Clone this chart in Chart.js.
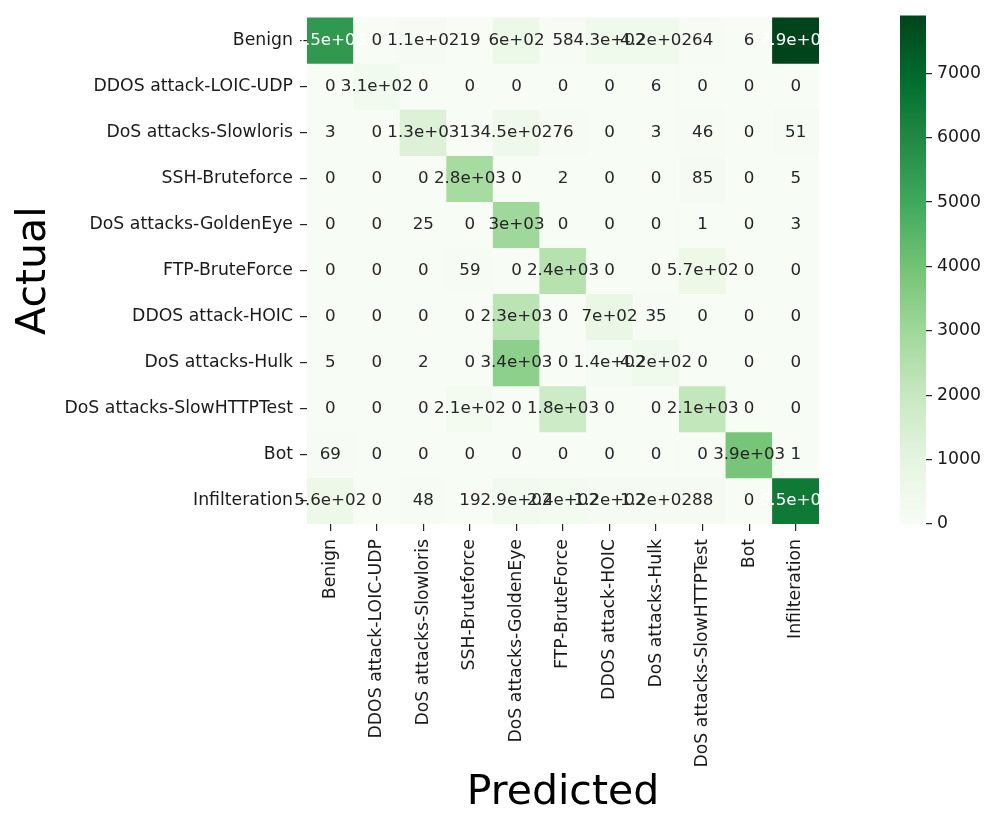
<!DOCTYPE html>
<html>
<head>
<meta charset="utf-8">
<script src="https://cdn.jsdelivr.net/npm/chart.js@4.4.1/dist/chart.umd.min.js"></script>
<style>
  html, body { margin: 0; padding: 0; background: #ffffff; }
  #wrap { position: relative; width: 984px; height: 814px; overflow: hidden; }
  #heatCanvas { position: absolute; left: 0; top: 0; }
  #cbarCanvas { position: absolute; left: 860px; top: 0; }
</style>
</head>
<body>
<div id="wrap">
  <canvas id="heatCanvas" width="860" height="814"></canvas>
  <canvas id="cbarCanvas" width="124" height="814"></canvas>
</div>
<script>
// Class names (same order for actual rows and predicted columns)
const classNames = [
  'Benign', 'DDOS attack-LOIC-UDP', 'DoS attacks-Slowloris', 'SSH-Bruteforce',
  'DoS attacks-GoldenEye', 'FTP-BruteForce', 'DDOS attack-HOIC', 'DoS attacks-Hulk',
  'DoS attacks-SlowHTTPTest', 'Bot', 'Infilteration'
];

// Confusion matrix rows: counts per predicted class
const rowBenign        = [5500, 0, 110, 19, 600, 58, 430, 420, 64, 6, 7900];
const rowLoicUdp       = [0, 310, 0, 0, 0, 0, 0, 6, 0, 0, 0];
const rowSlowloris     = [3, 0, 1300, 13, 450, 76, 0, 3, 46, 0, 51];
const rowSshBrute      = [0, 0, 0, 2800, 0, 2, 0, 0, 85, 0, 5];
const rowGoldenEye     = [0, 0, 25, 0, 3000, 0, 0, 0, 1, 0, 3];
const rowFtpBrute      = [0, 0, 0, 59, 0, 2400, 0, 0, 570, 0, 0];
const rowHoic          = [0, 0, 0, 0, 2300, 0, 700, 35, 0, 0, 0];
const rowHulk          = [5, 0, 2, 0, 3400, 0, 140, 420, 0, 0, 0];
const rowSlowHttpTest  = [0, 0, 0, 210, 0, 1800, 0, 0, 2100, 0, 0];
const rowBot           = [69, 0, 0, 0, 0, 0, 0, 0, 0, 3900, 1];
const rowInfilteration = [560, 0, 48, 19, 290, 240, 120, 120, 88, 0, 6500];

const confusion = [
  rowBenign, rowLoicUdp, rowSlowloris, rowSshBrute, rowGoldenEye, rowFtpBrute,
  rowHoic, rowHulk, rowSlowHttpTest, rowBot, rowInfilteration
];

const colorbarTicks = [0, 1000, 2000, 3000, 4000, 5000, 6000, 7000];

const FONT = 'DejaVu Sans';
const TICK_SIZE = 17.3;
const ANNOT_SIZE = 16.7;
const vmax = Math.max(...confusion.flat());

// Sequential "Greens" palette (ColorBrewer 9 steps)
const greensStops = ['#f7fcf5', '#e5f5e0', '#c7e9c0', '#a1d99b', '#74c476',
                     '#41ab5d', '#238b45', '#006d2c', '#00441b'];
function hexToRgb(h) {
  return [parseInt(h.slice(1, 3), 16), parseInt(h.slice(3, 5), 16), parseInt(h.slice(5, 7), 16)];
}
function greensRgb(t) {
  t = Math.min(1, Math.max(0, t));
  const pos = t * (greensStops.length - 1);
  const i = Math.min(Math.floor(pos), greensStops.length - 2);
  const f = pos - i;
  const a = hexToRgb(greensStops[i]), b = hexToRgb(greensStops[i + 1]);
  return a.map((c, k) => Math.round(c + (b[k] - c) * f));
}
function greens(t) {
  const c = greensRgb(t);
  return `rgb(${c[0]},${c[1]},${c[2]})`;
}
function luminance(rgb) {
  const lin = rgb.map(c => {
    c /= 255;
    return c <= 0.03928 ? c / 12.92 : Math.pow((c + 0.055) / 1.055, 2.4);
  });
  return 0.2126 * lin[0] + 0.7152 * lin[1] + 0.0722 * lin[2];
}

// Two significant digits, printf "%.2g" style
function fmt2g(v) {
  if (v === 0) return '0';
  let e = Math.floor(Math.log10(Math.abs(v)));
  let m = Math.round(v / Math.pow(10, e - 1)) / 10;
  if (Math.abs(m) >= 10) { m /= 10; e += 1; }
  if (e < -4 || e >= 2) {
    const ms = m.toFixed(1).replace(/\.0$/, '');
    const es = (e < 0 ? '-' : '+') + String(Math.abs(e)).padStart(2, '0');
    return ms + 'e' + es;
  }
  const digits = Math.max(0, 1 - e);
  return String(parseFloat(v.toFixed(digits)));
}

// Cell annotations, drawn row by row on top of the cells
const annotatePlugin = {
  id: 'cellAnnotations',
  afterDatasetsDraw(chart) {
    const ctx = chart.ctx;
    ctx.save();
    ctx.font = `${ANNOT_SIZE}px "${FONT}"`;
    ctx.textAlign = 'center';
    ctx.textBaseline = 'middle';
    confusion.forEach((row, i) => {
      const meta = chart.getDatasetMeta(i);
      row.forEach((v, j) => {
        const el = meta.data[j];
        const cx = el.x;
        const cy = (el.y + el.base) / 2;
        const lum = luminance(greensRgb(v / vmax));
        ctx.fillStyle = lum > 0.408 ? '#262626' : '#ffffff';
        ctx.fillText(fmt2g(v), cx, cy);
      });
    });
    ctx.restore();
  }
};

const tickGrid = {
  display: true,
  drawOnChartArea: false,
  drawTicks: true,
  tickLength: 7,
  offset: false,
  color: '#222222',
  lineWidth: 1.2
};

new Chart(document.getElementById('heatCanvas'), {
  type: 'bar',
  data: {
    labels: classNames,
    datasets: confusion.map((row, i) => ({
      label: classNames[i],
      data: row.map((v, j) => ({ x: classNames[j], y: [i - 0.5, i + 0.5], v })),
      backgroundColor: ctx => greens((ctx.raw ? ctx.raw.v : 0) / vmax),
      borderWidth: 0,
      barPercentage: 1,
      categoryPercentage: 1,
      grouped: false
    }))
  },
  options: {
    responsive: false,
    animation: false,
    devicePixelRatio: 1,
    layout: { padding: { top: 10, right: 41, left: 0, bottom: 0 } },
    plugins: { legend: { display: false }, tooltip: { enabled: false } },
    scales: {
      x: {
        type: 'category',
        position: 'bottom',
        offset: true,
        grid: tickGrid,
        border: { display: false },
        ticks: {
          autoSkip: false, maxRotation: 90, minRotation: 90, padding: 8,
          color: '#1a1a1a', font: { family: FONT, size: TICK_SIZE }
        },
        title: {
          display: true, text: 'Predicted', color: '#000000', padding: 0,
          font: { family: FONT, size: 41, lineHeight: 1 }
        },
        afterFit(scale) { scale.height = 290; }
      },
      y: {
        type: 'linear',
        reverse: true,
        min: -0.5,
        max: classNames.length - 0.5,
        stacked: false,
        afterBuildTicks(scale) { scale.ticks = classNames.map((_, i) => ({ value: i })); },
        grid: tickGrid,
        border: { display: false },
        ticks: {
          autoSkip: false, padding: 7, color: '#1a1a1a',
          font: { family: FONT, size: TICK_SIZE },
          callback: v => classNames[v]
        },
        title: {
          display: true, text: 'Actual', color: '#000000', padding: { top: 14 },
          font: { family: FONT, size: 41, lineHeight: 1 }
        },
        afterFit(scale) { scale.width = 307; }
      }
    }
  },
  plugins: [annotatePlugin]
});

// Colour bar: one bar spanning 0..vmax filled with the palette gradient
new Chart(document.getElementById('cbarCanvas'), {
  type: 'bar',
  data: {
    labels: [''],
    datasets: [{
      data: [[0, vmax]],
      backgroundColor(ctx) {
        const chart = ctx.chart;
        const ys = chart.scales.y;
        if (!chart.chartArea || !ys) return greens(0.5);
        const g = chart.ctx.createLinearGradient(0, ys.getPixelForValue(0), 0, ys.getPixelForValue(vmax));
        greensStops.forEach((c, k) => g.addColorStop(k / (greensStops.length - 1), c));
        return g;
      },
      borderWidth: 0,
      barPercentage: 1,
      categoryPercentage: 1
    }]
  },
  options: {
    responsive: false,
    animation: false,
    devicePixelRatio: 1,
    layout: { padding: { top: 10, left: 40, right: 0, bottom: 290 } },
    plugins: { legend: { display: false }, tooltip: { enabled: false } },
    scales: {
      x: { display: false },
      y: {
        position: 'right',
        min: 0,
        max: vmax,
        afterBuildTicks(scale) { scale.ticks = colorbarTicks.map(v => ({ value: v })); },
        grid: { display: true, drawOnChartArea: false, drawTicks: true, tickLength: 6, color: '#222222', lineWidth: 1.2 },
        border: { display: false },
        ticks: { padding: 5, color: '#1a1a1a', font: { family: FONT, size: TICK_SIZE }, callback: v => String(v) },
        afterFit(scale) { scale.width = 58; }
      }
    }
  }
});
</script>
</body>
</html>
